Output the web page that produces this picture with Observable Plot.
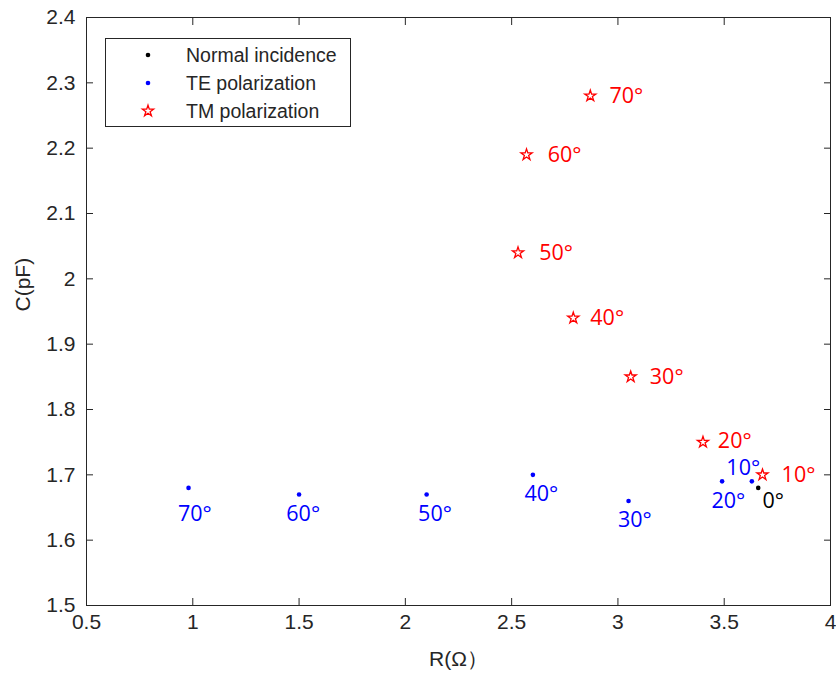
<!DOCTYPE html>
<html>
<head>
<meta charset="utf-8">
<script src="https://cdn.jsdelivr.net/npm/d3@7"></script>
<script src="https://cdn.jsdelivr.net/npm/@observablehq/plot@0.6"></script>
<style>
  html, body { margin: 0; padding: 0; background: #fff; }
  #wrap { position: relative; width: 836px; height: 677px; }
  #legend {
    position: absolute; left: 105px; top: 38px; width: 246px; height: 89px;
    border: 1px solid #262626; background: #fff; box-sizing: border-box;
    font-family: "Liberation Sans", Arial, sans-serif; font-size: 19.5px; color: #262626;
  }
  .row { position: absolute; left: 0; height: 20px; display: flex; align-items: center; }
  .row svg { position: absolute; left: 32px; top: 0; }
  .row span { position: absolute; left: 80px; white-space: nowrap; line-height: 20px; top: 0; }
</style>
</head>
<body>
<div id="wrap"></div>
<script>
// ---- data ----
const seriesNames = ["Normal incidence", "TE polarization", "TM polarization"];

const normalR = [3.66];
const normalC = [1.68];
const normalLabel = ["0°"];
const normalLabelR = [3.68];
const normalLabelC = [1.66];

const teLabel = ["10°", "20°", "30°", "40°", "50°", "60°", "70°"];
const teR = [3.63, 3.49, 3.05, 2.60, 2.10, 1.50, 0.98];
const teC = [1.69, 1.69, 1.66, 1.70, 1.67, 1.67, 1.68];
const teLabelR = [3.51, 3.44, 3.00, 2.56, 2.06, 1.44, 0.93];
const teLabelC = [1.711, 1.66, 1.63, 1.67, 1.64, 1.64, 1.64];

const tmLabel = ["10°", "20°", "30°", "40°", "50°", "60°", "70°"];
const tmR = [3.68, 3.40, 3.06, 2.79, 2.53, 2.57, 2.87];
const tmC = [1.70, 1.75, 1.85, 1.94, 2.04, 2.19, 2.28];
const tmLabelR = [3.77, 3.47, 3.15, 2.87, 2.63, 2.67, 2.96];
const tmLabelC = [1.70, 1.751, 1.85, 1.94, 2.04, 2.19, 2.28];

const xTicks = [0.5, 1, 1.5, 2, 2.5, 3, 3.5, 4];
const yTicks = [1.5, 1.6, 1.7, 1.8, 1.9, 2, 2.1, 2.2, 2.3, 2.4];
const xTitle = "R(Ω）";
const yTitle = "C(pF)";

// ---- build tables ----
const toRows = (xs, ys, labels, lxs, lys) => xs.map((x, i) => ({x, y: ys[i], label: labels[i], lx: lxs[i], ly: lys[i]}));
const normal = toRows(normalR, normalC, normalLabel, normalLabelR, normalLabelC);
const te = toRows(teR, teC, teLabel, teLabelR, teLabelC);
const tm = toRows(tmR, tmC, tmLabel, tmLabelR, tmLabelC);

const axisColor = "#262626";
const tickFont = "Liberation Sans, Arial, sans-serif";
const annFont = "Open Sans, Noto Sans, sans-serif";
const annSize = 21.5;
const starR = 3.5;
const starW = 1.3;

const chart = Plot.plot({
  width: 836,
  height: 677,
  marginLeft: 86,
  marginRight: 6,
  marginTop: 17,
  marginBottom: 72,
  style: {fontFamily: tickFont, color: axisColor, background: "#fff", overflow: "visible"},
  x: {domain: [0.5, 4]},
  y: {domain: [1.5, 2.4]},
  marks: [
    Plot.frame({stroke: axisColor, strokeWidth: 1}),
    // inward tick marks on all four sides
    Plot.axisX({ticks: xTicks, anchor: "bottom", tickSize: -7, tickFormat: () => "", label: null, stroke: axisColor}),
    Plot.axisX({ticks: xTicks, anchor: "top", tickSize: -7, tickFormat: () => "", label: null, stroke: axisColor}),
    Plot.axisY({ticks: yTicks, anchor: "left", tickSize: -7, tickFormat: () => "", label: null, stroke: axisColor}),
    Plot.axisY({ticks: yTicks, anchor: "right", tickSize: -7, tickFormat: () => "", label: null, stroke: axisColor}),
    // tick labels
    Plot.axisX({ticks: xTicks, anchor: "bottom", tickSize: 0, tickPadding: 9, fontSize: 21, fill: axisColor,
      tickFormat: d => String(d), label: null}),
    Plot.axisY({ticks: yTicks, anchor: "left", tickSize: 0, tickPadding: 11, fontSize: 21, fill: axisColor,
      tickFormat: d => String(d), label: null}),
    // axis titles
    Plot.text([xTitle], {frameAnchor: "bottom", dy: 60, text: d => d, fontSize: 21, fill: axisColor, fontFamily: tickFont}),
    Plot.text([yTitle], {frameAnchor: "left", dx: -63, rotate: -90, text: d => d, fontSize: 21, fill: axisColor, fontFamily: tickFont}),
    // points
    Plot.dot(te, {x: "x", y: "y", r: 2.3, fill: "#0000ff", stroke: null}),
    Plot.dot(normal, {x: "x", y: "y", r: 2.3, fill: "#000000", stroke: null}),
    Plot.dot(tm, {x: "x", y: "y", symbol: "star", r: starR, fill: "none", stroke: "#ff0000", strokeWidth: starW}),
    // annotations
    Plot.text(te, {x: "lx", y: "ly", text: "label", textAnchor: "start", fill: "#0000ff", fontSize: annSize, fontFamily: annFont}),
    Plot.text(tm, {x: "lx", y: "ly", text: "label", textAnchor: "start", fill: "#ff0000", fontSize: annSize, fontFamily: annFont}),
    Plot.text(normal, {x: "lx", y: "ly", text: "label", textAnchor: "start", fill: "#000000", fontSize: annSize, fontFamily: annFont})
  ]
});

const wrap = document.getElementById("wrap");
wrap.appendChild(chart);

// ---- legend (overlay) ----
const legend = document.createElement("div");
legend.id = "legend";
const legendMarks = [
  {name: seriesNames[0], kind: "dot", color: "#000000"},
  {name: seriesNames[1], kind: "dot", color: "#0000ff"},
  {name: seriesNames[2], kind: "star", color: "#ff0000"}
];
const rowTops = [6, 34, 62];
legendMarks.forEach((m, i) => {
  const row = document.createElement("div");
  row.className = "row";
  row.style.top = rowTops[i] + "px";
  const svg = d3.create("svg").attr("width", 20).attr("height", 20);
  if (m.kind === "dot") {
    svg.append("circle").attr("cx", 10).attr("cy", 10).attr("r", 2.3).attr("fill", m.color);
  } else {
    svg.append("path").attr("transform", "translate(10,10)")
      .attr("d", d3.symbol(d3.symbolStar, Math.PI * starR * starR)())
      .attr("fill", "none").attr("stroke", m.color).attr("stroke-width", starW);
  }
  row.appendChild(svg.node());
  const span = document.createElement("span");
  span.textContent = m.name;
  row.appendChild(span);
  legend.appendChild(row);
});
wrap.appendChild(legend);
</script>
</body>
</html>
